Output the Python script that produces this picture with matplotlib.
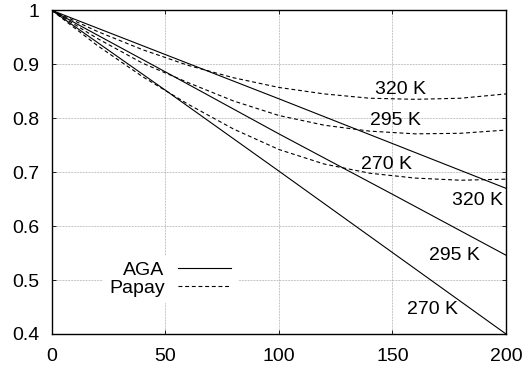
import matplotlib
matplotlib.use("Agg")
import matplotlib.pyplot as plt
import numpy as np

plt.rcParams['font.family'] = ['Liberation Sans', 'DejaVu Sans']

# AGA (solid)
aga_x = [0, 50, 100, 150, 200]
aga_320 = [1.0, 0.918, 0.836, 0.753, 0.670]
aga_295 = [1.0, 0.886, 0.771, 0.659, 0.546]
aga_270 = [1.0, 0.852, 0.702, 0.551, 0.400]

# Papay (dashed)
pap_x = [0, 20, 40, 60, 80, 100, 120, 140, 160, 180, 200]
pap_320 = [1.0, 0.961, 0.927, 0.898, 0.875, 0.857, 0.845, 0.837, 0.835, 0.837, 0.845]
pap_295 = [1.0, 0.948, 0.902, 0.866, 0.832, 0.805, 0.787, 0.776, 0.771, 0.772, 0.778]
pap_270 = [1.0, 0.935, 0.877, 0.826, 0.780, 0.742, 0.715, 0.698, 0.689, 0.685, 0.687]

labels = ["320 K", "295 K", "270 K"]
pap_label_pos = [(153.5, 0.854), (151.5, 0.795), (147.5, 0.715)]
aga_label_pos = [(187.4, 0.647), (177.2, 0.546), (167.6, 0.445)]

xticks = [0, 50, 100, 150, 200]
yticks = [0.4, 0.5, 0.6, 0.7, 0.8, 0.9, 1.0]
yticklabels = ["0.4", "0.5", "0.6", "0.7", "0.8", "0.9", "1"]

fs = 14
fig = plt.figure(figsize=(5.25, 3.72), dpi=100)
ax = fig.add_axes([0.0985, 0.1022, 0.9638 - 0.0985, 0.9723 - 0.1022])

lw = 0.8
dash = (3.5, 2.5)
l1, = ax.plot(aga_x, aga_320, color='black', lw=lw, label='AGA')
ax.plot(aga_x, aga_295, color='black', lw=lw)
ax.plot(aga_x, aga_270, color='black', lw=lw)
l2, = ax.plot(pap_x, pap_320, color='black', lw=lw, dashes=dash, label='Papay')
ax.plot(pap_x, pap_295, color='black', lw=lw, dashes=dash)
ax.plot(pap_x, pap_270, color='black', lw=lw, dashes=dash)

for lab, (x, y) in zip(labels, pap_label_pos):
    ax.text(x, y, lab, ha='center', va='center', fontsize=fs)
for lab, (x, y) in zip(labels, aga_label_pos):
    ax.text(x, y, lab, ha='center', va='center', fontsize=fs)

ax.set_xlim(0, 200)
ax.set_ylim(0.4, 1.0)
ax.set_xticks(xticks)
ax.set_xticklabels([str(v) for v in xticks])
ax.set_yticks(yticks)
ax.set_yticklabels(yticklabels)
ax.tick_params(direction='in', length=3, width=0.6, labelsize=fs,
               top=True, right=True, pad=9)
ax.tick_params(axis='x', pad=10)
ax.grid(True, color='#888888', linestyle=(0, (1, 1.2)), lw=0.5)
ax.set_axisbelow(True)
for s in ax.spines.values():
    s.set_linewidth(1.0)

leg = ax.legend(handles=[l1, l2], loc='center', bbox_to_anchor=(0.26, 0.17),
                markerfirst=False, frameon=True, fontsize=fs,
                handlelength=2.7, handletextpad=0.7, labelspacing=0.0,
                borderpad=0.3, fancybox=False)
leg.get_frame().set_edgecolor('white')
leg.get_frame().set_facecolor('white')
leg.get_frame().set_alpha(1.0)
for t in leg.get_texts():
    t.set_ha('right')
leg._legend_box.align = 'right'

fig.savefig('out.png', dpi=100)
